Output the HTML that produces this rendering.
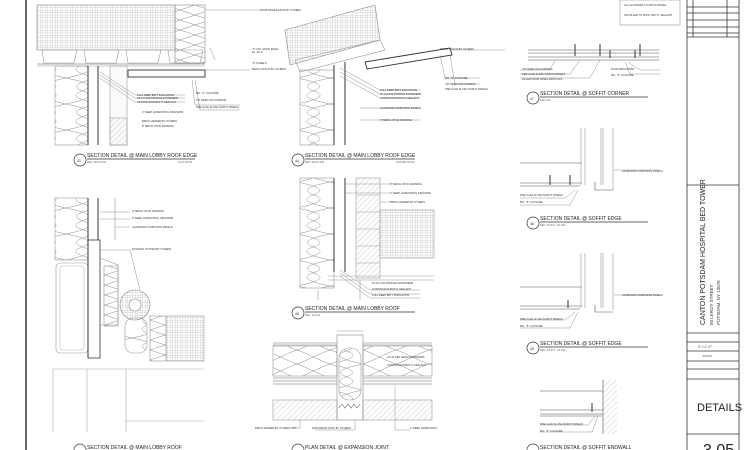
<!DOCTYPE html>
<html><head><meta charset="utf-8"><style>
html,body{margin:0;padding:0;background:#fff;width:750px;height:450px;overflow:hidden}
svg{display:block}
text{font-family:"Liberation Sans",sans-serif;fill:#333}
.t{font-size:2.6px;fill:#666}
.cap{font-size:5px;fill:#222}
.ref{font-size:3.5px;fill:#333}
</style></head><body>
<svg width="750" height="450" viewBox="0 0 750 450" xmlns="http://www.w3.org/2000/svg">
<defs>
<pattern id="grid" width="2.5" height="2.5" patternUnits="userSpaceOnUse"><path d="M0 0H2.5M0 0V2.5" stroke="#999" stroke-width="0.4"/></pattern>
<pattern id="hatch" width="4" height="4" patternUnits="userSpaceOnUse" patternTransform="rotate(45)"><path d="M0 0V4" stroke="#999" stroke-width="0.5"/></pattern>
<pattern id="dots" width="3" height="3" patternUnits="userSpaceOnUse"><circle cx="1" cy="1" r="0.3" fill="#999"/><circle cx="2.4" cy="2.2" r="0.25" fill="#aaa"/></pattern>
<pattern id="ins" width="33" height="14" patternUnits="userSpaceOnUse"><path d="M0 0 C10 3 23 11 33 14 M33 0 C23 3 10 11 0 14" stroke="#888" stroke-width="0.5" fill="none"/></pattern>
<pattern id="insv" width="33" height="26" patternUnits="userSpaceOnUse"><path d="M0 0 C20 4 30 8 16 13 C2 18 14 22 33 26 M33 0 C13 4 3 8 17 13 C31 18 19 22 0 26" stroke="#888" stroke-width="0.5" fill="none"/></pattern>
<pattern id="xz" width="30" height="10" patternUnits="userSpaceOnUse"><path d="M0 0L30 10M30 0L0 10" stroke="#888" stroke-width="0.5"/></pattern>
</defs>
<g fill="none" stroke="#555" stroke-width="0.6">
<line x1="26" y1="0" x2="26" y2="450" stroke="#666" stroke-width="2"/>
<!-- Detail 41 -->
<rect x="37" y="5" width="138" height="45" fill="url(#grid)" stroke="#888"/>
<rect x="175" y="5" width="30" height="58" fill="url(#xz)" stroke="#888"/>
<path d="M42 50h35l-3 13h-30zM84 50h35l-3 13h-30zM126 50h35l-3 13h-30zM168 50h35l-3 13h-30z" stroke="#999"/>
<line x1="37" y1="64" x2="205" y2="64"/><line x1="37" y1="66" x2="205" y2="66" stroke="#999"/>
<rect x="128" y="70" width="77" height="7" stroke="#333" stroke-width="0.9"/>
<rect x="55" y="66" width="33" height="79" fill="url(#insv)" stroke="#999"/>
<line x1="88" y1="66" x2="88" y2="145" stroke="#333" stroke-width="1"/><line x1="98" y1="66" x2="98" y2="145" stroke="#333" stroke-width="1"/>
<rect x="110" y="66" width="17" height="79" fill="url(#dots)" stroke="#999"/>
<rect x="110" y="118" width="17" height="27" fill="url(#hatch)" stroke="#999"/>
<path d="M100 72L135 95H185M100 75L135 98H185M100 78L135 102H185M192 80L195 105H240M195 80L200 110H240" stroke="#777" stroke-width="0.4"/>
<path d="M205 10H260M205 70H250M210 48L215 60" stroke="#777" stroke-width="0.4"/>
<!-- Detail 44 -->
<path d="M285 30L375 5L380 40L290 65Z" fill="url(#grid)" stroke="#888"/>
<path d="M295 60L380 40L385 50L300 72Z" stroke="#999"/>
<path d="M365 62L450 48L452 55L367 69Z" stroke="#333" stroke-width="0.9"/>
<rect x="300" y="70" width="34" height="75" fill="url(#insv)" stroke="#999"/>
<line x1="334" y1="65" x2="334" y2="145" stroke="#333" stroke-width="1"/><line x1="345" y1="62" x2="345" y2="145" stroke="#333" stroke-width="1"/>
<path d="M340 68L380 90H420M340 72L380 94H420M340 76L380 98H420M440 55L445 78H480M450 55L455 84H480M360 108H420M360 120H420" stroke="#777" stroke-width="0.4"/>
<path d="M452 50H505" stroke="#777" stroke-width="0.4"/>
<!-- Detail 45 -->
<rect x="300" y="178" width="34" height="110" fill="url(#insv)" stroke="#999"/>
<line x1="334" y1="178" x2="334" y2="272" stroke="#333" stroke-width="1"/><line x1="345" y1="178" x2="345" y2="272" stroke="#333" stroke-width="1"/>
<rect x="356" y="178" width="24" height="100" fill="url(#hatch)" stroke="#999"/>
<path d="M356 195h24M356 212h24M356 229h24M356 246h24M356 263h24" stroke="#999"/>
<rect x="380" y="210" width="54" height="48" fill="url(#grid)" stroke="#999"/>
<path d="M328 276H434M328 280H434M318 290V300M360 280V300" stroke="#999"/>
<path d="M340 270L370 290H420M340 273L370 294H420M340 276L370 298H420M345 184H390M345 193H390M380 202H390" stroke="#777" stroke-width="0.4"/>
<!-- Detail 47 -->
<path d="M528 50H659M528 53H659M528 57H659M528 60H659" stroke="#555"/>
<path d="M575 44V56M600 44V56M610 50V58M635 50V58M640 44V56" stroke="#333" stroke-width="1"/>
<path d="M555 60L550 70H520M580 60L570 74H520M600 60L590 78H520M625 62L630 74H660M628 62L640 70H660" stroke="#777" stroke-width="0.4"/>
<!-- Detail 48 -->
<path d="M581 128V185M585 128V185M601 128V185M603 128V185M613 128V190" stroke="#999"/>
<path d="M520 163H582M520 183H582M520 186H580M595 182V190H613" stroke="#555"/>
<path d="M550 175V185M570 175V185" stroke="#333" stroke-width="1"/>
<path d="M614 170H660M575 190L565 198H520M578 190L570 205H520" stroke="#777" stroke-width="0.4"/>
<!-- Detail 49 -->
<path d="M581 253V308M585 253V308M601 253V308M603 253V308M613 253V310" stroke="#999"/>
<path d="M520 287H582M520 306H582M520 309H580M595 305V312H613" stroke="#555"/>
<path d="M568 300V308" stroke="#333" stroke-width="1"/>
<path d="M614 295H660M575 312L565 320H520M578 312L570 328H520" stroke="#777" stroke-width="0.4"/>
<!-- endwall -->
<rect x="603" y="380" width="14" height="54" fill="url(#hatch)" stroke="none"/>
<line x1="603" y1="380" x2="603" y2="434" stroke="#555"/>
<path d="M540 391H603M540 410H603M540 414H603M540 416H602" stroke="#555"/>
<path d="M592 403V412" stroke="#333" stroke-width="1"/>
<path d="M595 416L588 425H540M598 416L592 432H540" stroke="#777" stroke-width="0.4"/>
<!-- lower-left detail -->
<rect x="55" y="198" width="33" height="62" fill="url(#insv)" stroke="#999"/>
<rect x="56" y="263" width="32" height="90" rx="4" stroke="#999"/>
<rect x="60" y="266" width="24" height="84" rx="3" stroke="#bbb"/>
<line x1="88" y1="198" x2="88" y2="358" stroke="#333" stroke-width="1"/>
<rect x="88" y="240" width="12" height="118" stroke="#333" stroke-width="0.8"/>
<line x1="98" y1="198" x2="98" y2="240" stroke="#333" stroke-width="1"/>
<line x1="115" y1="198" x2="115" y2="240" stroke="#999"/>
<path d="M100 258L118 265V325H100" stroke="#999"/>
<rect x="104" y="266" width="14" height="60" fill="url(#xz)" stroke="#999"/>
<circle cx="135" cy="305" r="15" fill="url(#grid)" stroke="#888"/><circle cx="135" cy="305" r="6" fill="#fff" stroke="#888"/>
<rect x="125" y="318" width="22" height="35" rx="8" fill="url(#insv)" stroke="#999"/>
<rect x="150" y="316" width="16" height="45" fill="url(#xz)" stroke="#999"/>
<rect x="166" y="316" width="38" height="45" fill="url(#grid)" stroke="#999"/>
<path d="M53 369H204M53 369V432M87 369V432M126 369V432M126 421H204" stroke="#aaa"/>
<path d="M100 212H130M100 219H130M115 227H130M100 250H130L140 290" stroke="#777" stroke-width="0.4"/>
<!-- expansion joint -->
<path d="M273 343H337M273 345H337M363 343H432M363 345H432" stroke="#777"/>
<rect x="273" y="346" width="64" height="30" fill="url(#ins)" stroke="#999"/>
<rect x="363" y="346" width="69" height="30" fill="url(#ins)" stroke="#999"/>
<path d="M273 378H337M273 381H337M273 384H337M363 378H432M363 381H432M363 384H432" stroke="#666"/>
<rect x="273" y="400" width="64" height="20" fill="url(#hatch)" stroke="#999"/>
<rect x="363" y="400" width="69" height="20" fill="url(#hatch)" stroke="#999"/>
<rect x="337" y="335" width="26" height="85" stroke="#888"/>
<rect x="339" y="348" width="22" height="52" rx="10" fill="url(#insv)" stroke="#999"/>
<path d="M339 408l3-4 3 4 3-4 3 4 3-4 3 4 3-4" stroke="#666"/>
<path d="M337 331H363M300 420V428H290M355 420V430H315M395 385V430H410" stroke="#777" stroke-width="0.4"/>
<!-- title block -->
<path d="M687 0V450M739 0V450M693 0V37M727 0V37" stroke="#333" stroke-width="0.8"/>
<path d="M687 7H739M687 13H739M687 20H739M687 27H739M687 33H739M687 37H739M687 185H739M687 333H739M687 342H739M687 351H739M687 361H739M687 369H739M687 379H739M687 434H739" stroke="#333" stroke-width="0.8"/>
<rect x="620" y="0" width="60" height="25" stroke="#999"/>
</g>
<g class="t">
<text x="260" y="11">ROOF EDGE FASCIA BY OTHERS</text>
<text x="252" y="50">"C" APL. ROOF EDGE</text><text x="252" y="53">EL. 34'-0"</text>
<text x="252" y="64">"C" PANELS</text><text x="252" y="70">METAL FASCIA BY OTHERS</text>
<text x="137" y="96">FULL DEEP BATT INSULATION</text><text x="137" y="99">#2-14 LOW PROFILE FASTENERS</text><text x="137" y="103">CONTINUOUS BUTYL SEALANT</text>
<text x="142" y="113">2" DEEP HORIZONTAL KINGSPAN</text><text x="142" y="122">BRICK VENEER BY OTHERS</text><text x="142" y="127">8" METAL STUD FRAMING</text>
<text x="196" y="94">MIL. "Z" CLOSURE</text><text x="196" y="101">7/8" DEEP HAT FURRING</text><text x="196" y="108">PRE-CLAD FLUSH SOFFIT PANELS</text>
<text x="440" y="50">METAL FASCIA BY OTHERS</text>
<text x="380" y="91">FULL DEEP BATT INSULATION</text><text x="380" y="95">#2-14 LOW PROFILE FASTENERS</text><text x="380" y="99">CONTINUOUS BUTYL SEALANT</text>
<text x="380" y="109">ALUMINUM COMPOSITE PANELS</text><text x="380" y="121">8" METAL STUD FRAMING</text>
<text x="445" y="79">MIL. "Z" CLOSURE</text><text x="445" y="85">7/8" DEEP HAT FURRING</text><text x="445" y="90">PRE-CLAD FLUSH SOFFIT PANELS</text>
<text x="390" y="185">8" METAL STUD FRAMING</text><text x="390" y="194">2" DEEP HORIZONTAL KINGSPAN</text><text x="390" y="203">BRICK VENEER BY OTHERS</text>
<text x="372" y="284">#2-14 LOW PROFILE FASTENERS</text><text x="372" y="290">CONTINUOUS BUTYL SEALANT</text><text x="372" y="296">FULL DEEP BATT INSULATION</text>
<text x="522" y="70">7/8" DEEP HAT FURRING</text><text x="522" y="75">PRE-CLAD FLUSH SOFFIT PANELS</text><text x="522" y="80">FILLER FROM PANEL DROP-OFF</text>
<text x="611" y="70">POLE WRAP RIVET</text><text x="611" y="76">MIL. "Z" CLOSURE</text>
<text x="622" y="172">ALUMINUM COMPOSITE PANELS</text><text x="520" y="196">PRE-CLAD FLUSH SOFFIT PANELS</text><text x="520" y="203">MIL. "Z" CLOSURE</text>
<text x="622" y="296">ALUMINUM COMPOSITE PANELS</text><text x="520" y="320">PRE-CLAD FLUSH SOFFIT PANELS</text><text x="520" y="327">MIL. "Z" CLOSURE</text>
<text x="540" y="425">PRE-CLAD FLUSH SOFFIT PANELS</text><text x="540" y="432">MIL. "Z" CLOSURE</text>
<text x="132" y="212">8" METAL STUD FRAMING</text><text x="132" y="219">2" DEEP HORIZONTAL KINGSPAN</text><text x="132" y="228">ALUMINUM COMPOSITE PANELS</text><text x="132" y="250">ROOFING SYSTEM BY OTHERS</text>
<text x="255" y="429">BRICK VENEER BY OTHERS, TYP</text><text x="312" y="429">EXPANSION JOINT BY OTHERS</text><text x="410" y="429">2" DEEP HORIZONTAL</text>
<text x="387" y="358">1/4-14 HEX HEAD FASTENERS</text><text x="387" y="366">CONTINUOUS BUTYL SEALANT</text>
<text x="624" y="6">ALL CLOSURES TO MATCH PANEL</text><text x="624" y="16">INSTALLER TO APPLY BUTYL SEALANT</text>
</g>
<g fill="none" stroke="#333" stroke-width="0.7">
<circle cx="80" cy="160" r="6"/><circle cx="298" cy="160" r="6"/><circle cx="533" cy="98" r="6"/>
<circle cx="533" cy="223" r="6"/><circle cx="298" cy="313" r="6"/><circle cx="533" cy="348" r="6"/>
<circle cx="80" cy="450" r="6"/><circle cx="298" cy="450" r="6"/><circle cx="533" cy="450" r="6"/>
<path d="M87 159H195M305 159H415M540 97H648M540 222H648M305 312H415M540 347H648"/>
</g>
<g>
<text class="ref" x="77" y="162">41</text><text class="ref" x="295" y="162">44</text><text class="ref" x="530" y="100">47</text>
<text class="ref" x="530" y="225">48</text><text class="ref" x="295" y="315">45</text><text class="ref" x="530" y="350">49</text>
<text class="cap" x="87" y="157">SECTION DETAIL @ MAIN LOBBY ROOF EDGE</text><text class="t" x="87" y="163">REF. 3A/2/4-334</text><text class="t" x="178" y="163">FLAT ROOF</text>
<text class="cap" x="305" y="157">SECTION DETAIL @ MAIN LOBBY ROOF EDGE</text><text class="t" x="305" y="163">REF. 3A/2/4-334</text><text class="t" x="396" y="163">SLOPED ROOF</text>
<text class="cap" x="540" y="95">SECTION DETAIL @ SOFFIT CORNER</text><text class="t" x="540" y="101">REF. N/A</text>
<text class="cap" x="540" y="220">SECTION DETAIL @ SOFFIT EDGE</text><text class="t" x="540" y="226">REF. 3/4-327, 1/4-333</text>
<text class="cap" x="305" y="310">SECTION DETAIL @ MAIN LOBBY ROOF</text><text class="t" x="305" y="316">REF. 1/4-319</text>
<text class="cap" x="540" y="345">SECTION DETAIL @ SOFFIT EDGE</text><text class="t" x="540" y="351">REF. 3/4-327, 1/4-333</text>
<text class="cap" x="87" y="449">SECTION DETAIL @ MAIN LOBBY ROOF</text>
<text class="cap" x="305" y="449">PLAN DETAIL @ EXPANSION JOINT</text>
<text class="cap" x="540" y="449">SECTION DETAIL @ SOFFIT ENDWALL</text>
</g>
<g>
<text x="0" y="0" transform="translate(705,325) rotate(-90)" style="font-size:7px;fill:#222">CANTON POTSDAM HOSPITAL BED TOWER</text>
<text x="0" y="0" transform="translate(713,325) rotate(-90)" style="font-size:4.5px;fill:#333">50 LEROY STREET</text>
<text x="0" y="0" transform="translate(720,325) rotate(-90)" style="font-size:4.5px;fill:#333">POTSDAM, NY 13676</text>
<text x="698" y="348" style="font-size:4px;font-style:italic;fill:#555">3"=1'-0"</text>
<text x="702" y="357" style="font-size:3px;fill:#555">3/25/15</text>
<text x="697" y="411" style="font-size:11px;fill:#222">DETAILS</text>
<text x="703" y="455" style="font-size:16px;fill:#222">3.05</text>
</g>
</svg>
</body></html>
